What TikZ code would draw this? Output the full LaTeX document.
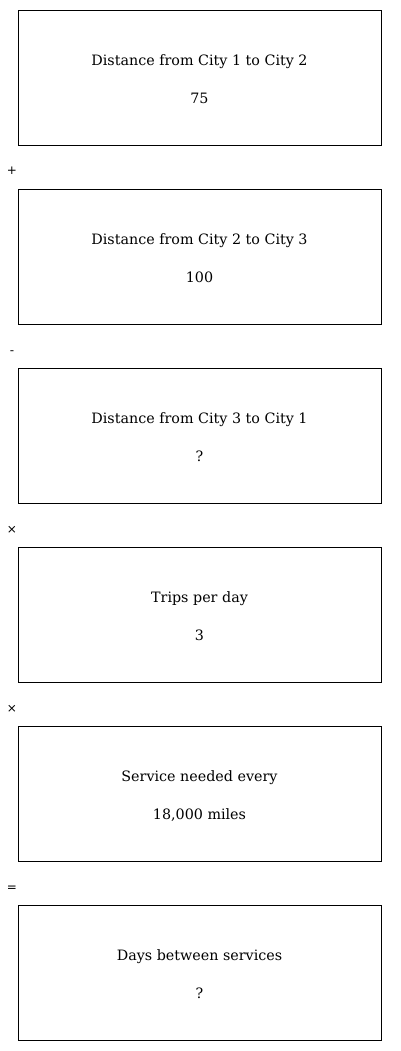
\documentclass[tikz,border=0pt]{standalone}
\usepackage{fontspec}
\setmainfont{DejaVu Serif}
\newfontfamily\opfont{DejaVu Sans}
\tikzset{
	stepbox/.style={draw, line width=0.9pt, minimum width=363pt, minimum height=135pt, inner sep=0pt},
	boxtext/.style={font=\fontsize{14.3}{17}\selectfont, inner sep=0pt, anchor=base},
	optext/.style={font=\opfont\fontsize{12}{14}\selectfont, inner sep=0pt, anchor=base}
}
\begin{document}
\begin{tikzpicture}[x=1pt,y=1pt]
		\useasboundingbox (0,0) rectangle (400,-1051);
		
		% one box per quantity, 179pt apart
		\foreach \i/\title/\val in {1/{Distance from City 1 to City 2}/75,
			2/{Distance from City 2 to City 3}/100,
			3/{Distance from City 3 to City 1}/?,
			4/{Trips per day}/3,
			5/{Service needed every}/{18,000 miles},
			6/{Days between services}/?}{
			\node[stepbox] (box\i) at (199.5,-77.5-179*\i+179) {};
			\node[boxtext] (title\i) at ([yshift=11.8pt]box\i.center) {\title};
			\node[boxtext] (val\i) at ([yshift=-26pt]box\i.center) {\val};
		}
		
		% operators between the boxes (baselines)
		\node[optext] (op1) at (12,-175) {+};
		\node[optext] (op2) at (12,-354) {-};
		\node[optext] (op3) at (12,-533) {×};
		\node[optext] (op4) at (12,-712) {×};
		\node[optext] (op5) at (12,-891) {=};
	\end{tikzpicture}
\end{document}
